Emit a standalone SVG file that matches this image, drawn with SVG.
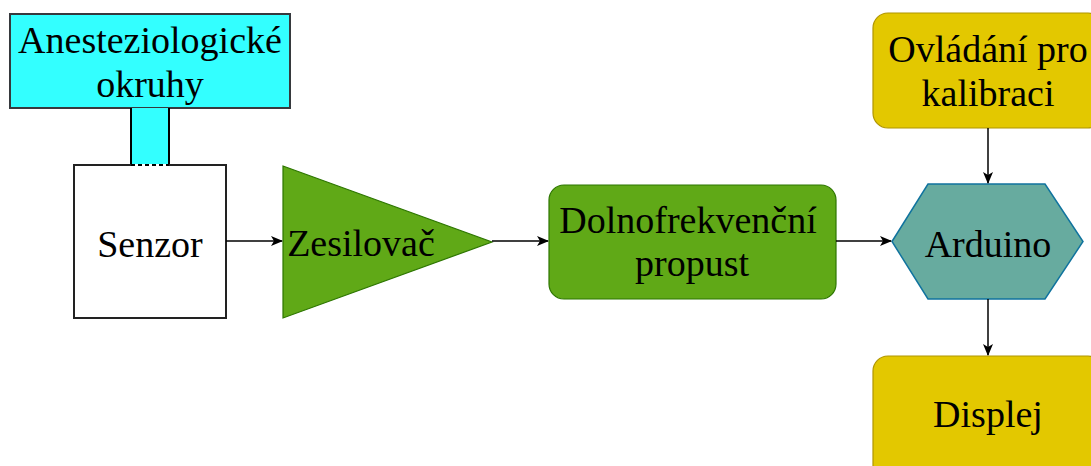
<svg xmlns="http://www.w3.org/2000/svg" width="1091" height="466" viewBox="0 0 1091 466">
<defs>
<style>
text{font-family:"Liberation Serif","Times New Roman",serif;font-size:38px;fill:#000;text-anchor:middle}
.green{fill:#60A917;stroke:#2D7600;stroke-width:1.2}
.yellow{fill:#E3C800;stroke:#B09500;stroke-width:1.2}
.dash{stroke:#000;stroke-width:2;stroke-dasharray:4,3}
</style>
<marker id="arr" viewBox="0 0 12 10" refX="11" refY="5" markerWidth="12" markerHeight="10" markerUnits="userSpaceOnUse" orient="auto">
<path d="M0,0 L12,5 L0,10 L3,5 Z" fill="#000"/>
</marker>
</defs>
<g id="anest">
<rect x="10" y="14" width="280" height="94" fill="#33FFFF" stroke="#36393D" stroke-width="2"/>
<text x="150" y="53">Anesteziologické</text>
<text x="150" y="97">okruhy</text>
</g>
<g id="tube">
<rect x="131" y="108" width="38" height="57" fill="#33FFFF"/>
<path d="M131,108 L131,165 M169,108 L169,165" stroke="#000" stroke-width="2" fill="none"/>
</g>
<g id="senzor">
<rect x="74" y="165" width="152" height="153" fill="#fff" stroke="#222" stroke-width="2"/>
<line x1="131" y1="165" x2="169" y2="165" stroke="#fff" stroke-width="2"/>
<line class="dash" x1="131" y1="165" x2="169" y2="165"/>
<text x="150" y="257">Senzor</text>
</g>
<g id="zesilovac">
<polygon class="green" points="283,166 492,242 283,318"/>
<text x="361" y="256">Zesilovač</text>
</g>
<g id="dolnofrekvencni">
<rect class="green" x="549" y="185" width="287" height="114" rx="15" ry="15"/>
<text x="688" y="233">Dolnofrekvenční</text>
<text x="692" y="276">propust</text>
</g>
<g id="arduino">
<polygon points="892,241.5 928,184 1045,184 1083,241.5 1045,299 928,299" fill="#67AB9F" stroke="#10739E" stroke-width="1.5"/>
<text x="988" y="257">Arduino</text>
</g>
<g id="ovladani">
<rect class="yellow" x="873" y="13" width="230" height="115" rx="15" ry="15"/>
<text x="988" y="62">Ovládání pro</text>
<text x="988" y="106">kalibraci</text>
</g>
<g id="displej">
<rect class="yellow" x="873" y="356" width="230" height="125" rx="15" ry="15"/>
<text x="988" y="427">Displej</text>
</g>
<g id="connectors" stroke="#000" stroke-width="1.5" fill="none" marker-end="url(#arr)">
<line x1="226" y1="241" x2="282" y2="241"/>
<line x1="492" y1="241" x2="548" y2="241"/>
<line x1="836" y1="241" x2="891" y2="241"/>
<line x1="988" y1="128" x2="988" y2="183"/>
<line x1="988" y1="299" x2="988" y2="355"/>
</g>
</svg>
